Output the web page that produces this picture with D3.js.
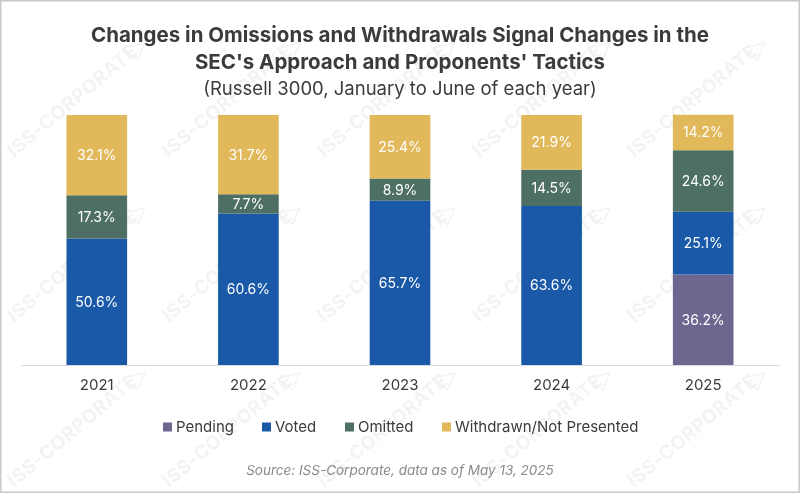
<!DOCTYPE html>
<html>
<head>
<meta charset="utf-8">
<script src="https://cdn.jsdelivr.net/npm/d3@7"></script>
<style>
  body { margin: 0; background: #fff; }
  svg { display: block; font-family: Inter, "Noto Sans", sans-serif; }
</style>
</head>
<body>
<svg id="main" width="800" height="493"></svg>
<script>
const years = ["2021", "2022", "2023", "2024", "2025"];
const series = ["Pending", "Voted", "Omitted", "Withdrawn/Not Presented"];
const pending = [0, 0, 0, 0, 36.2];
const voted = [50.6, 60.6, 65.7, 63.6, 25.1];
const omitted = [17.3, 7.7, 8.9, 14.5, 24.6];
const withdrawn = [32.1, 31.7, 25.4, 21.9, 14.2];
const colors = ["#6d678f", "#1a59a8", "#4e6f64", "#e1b95b"];

const rows = years.map((y, i) => ({
  year: y,
  "Pending": pending[i],
  "Voted": voted[i],
  "Omitted": omitted[i],
  "Withdrawn/Not Presented": withdrawn[i]
}));

const svg = d3.select("#main");
const W = 800, H = 493;

// frame
svg.append("rect").attr("x", 0.75).attr("y", 0.75).attr("width", W - 1.5).attr("height", H - 1.5)
  .attr("fill", "#fff").attr("stroke", "#c9c9c9").attr("stroke-width", 1.5);

// faint diagonal watermark
const wm = svg.append("g").attr("opacity", 0.05);
for (let r = 0; r < 3; r++) {
  for (let c = 0; c < 5; c++) {
    const g = wm.append("g")
      .attr("transform", `translate(${14 + c * 155},${158 + r * 165}) rotate(-40)`);
    g.append("text").attr("font-size", 19).attr("font-weight", 700).attr("fill", "#000")
      .attr("letter-spacing", 0.5).text("ISS-CORPORATE");
    g.append("path").attr("d", "M154,-14 L174,-4 L158,4 Z")
      .attr("fill", "none").attr("stroke", "#000").attr("stroke-width", 1.5);
  }
}

svg.append("text").attr("x", 400).attr("y", 42).attr("text-anchor", "middle")
  .attr("font-size", 20.5).attr("font-weight", 700).attr("fill", "#3b3b3b")
  .text("Changes in Omissions and Withdrawals Signal Changes in the");
svg.append("text").attr("x", 400).attr("y", 69).attr("text-anchor", "middle")
  .attr("font-size", 20.5).attr("font-weight", 700).attr("fill", "#3b3b3b")
  .text("SEC's Approach and Proponents' Tactics");
svg.append("text").attr("x", 400).attr("y", 95).attr("text-anchor", "middle")
  .attr("font-size", 18.5).attr("fill", "#3b3b3b")
  .text("(Russell 3000, January to June of each year)");

const x = d3.scaleBand().domain(years).range([21, 779]).paddingInner(0.6).paddingOuter(0.3);
const y = d3.scaleLinear().domain([0, 100]).range([365, 115]);

const stacked = d3.stack().keys(series)(rows);

const layer = svg.selectAll("g.layer").data(stacked).enter().append("g")
  .attr("class", "layer").attr("fill", (d, i) => colors[i]);

layer.selectAll("rect").data(d => d).enter().append("rect")
  .attr("x", d => x(d.data.year))
  .attr("y", d => y(d[1]))
  .attr("width", x.bandwidth())
  .attr("height", d => y(d[0]) - y(d[1]));

layer.selectAll("text").data(d => d.filter(v => v[1] - v[0] > 0)).enter().append("text")
  .attr("x", d => x(d.data.year) + x.bandwidth() / 2)
  .attr("y", d => (y(d[0]) + y(d[1])) / 2)
  .attr("dy", "0.35em")
  .attr("text-anchor", "middle")
  .attr("font-size", 14)
  .attr("fill", "#fff")
  .text(d => (d[1] - d[0]).toFixed(1) + "%");

const xAxis = svg.append("g").attr("transform", "translate(0,365)")
  .call(d3.axisBottom(x).tickSize(0).tickPadding(14));
xAxis.select(".domain").attr("stroke", "#d9d9d9").attr("stroke-width", 1.2);
xAxis.selectAll("text").attr("font-size", 15).attr("fill", "#3b3b3b")
  .attr("font-family", "Inter, sans-serif");

// legend
const legendX = [163, 262, 345, 442];
const legend = svg.append("g").selectAll("g").data(series).enter().append("g")
  .attr("transform", (d, i) => `translate(${legendX[i]},427)`);
legend.append("rect").attr("x", 0).attr("y", -4.5).attr("width", 9).attr("height", 9)
  .attr("fill", (d, i) => colors[i]);
legend.append("text").attr("x", 13).attr("dy", "0.35em").attr("font-size", 15)
  .attr("fill", "#3b3b3b").text(d => d);

svg.append("text").attr("x", 400).attr("y", 470).attr("dy", "0.35em").attr("text-anchor", "middle")
  .attr("font-size", 13.5).attr("font-style", "italic").attr("fill", "#8a8a8a")
  .text("Source: ISS-Corporate, data as of May 13, 2025");
</script>
</body>
</html>
